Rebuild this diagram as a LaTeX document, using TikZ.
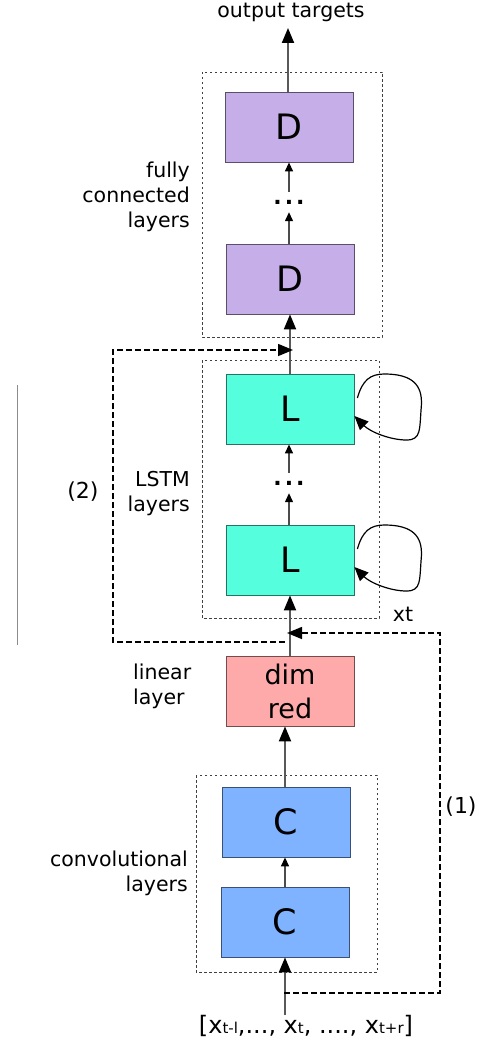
\documentclass[tikz,border=0pt]{standalone}
\usepackage{fontspec}
\setmainfont{DejaVu Sans}
\usetikzlibrary{arrows.meta}

\definecolor{densecol}{HTML}{C6AFE8}
\definecolor{lstmcol}{HTML}{55FFDD}
\definecolor{redcol}{HTML}{FFAAAA}
\definecolor{convcol}{HTML}{80B3FF}

\tikzset{
  block/.style={fill=#1, draw=#1!45!black, line width=0.8pt, minimum width=128pt,
    minimum height=70pt, inner sep=0pt, font=\fontsize{35}{35}\selectfont},
  lab/.style={font=\fontsize{20.5}{25}\selectfont, inner sep=0pt},
  dotsnode/.style={font=\fontsize{22}{22}\selectfont\bfseries, inner sep=0pt, minimum height=20pt},
  groupbox/.style={draw=black!75, line width=0.8pt, dash pattern=on 2.5pt off 2.5pt},
  mainarrow/.style={draw=black!65, line width=2pt, -{Triangle[length=15pt,width=12pt,color=black]}},
  thinarrow/.style={draw=black!70, line width=1.3pt, -{Triangle[length=9pt,width=8pt,color=black]}},
  skiparrow/.style={draw=black, line width=1.5pt, dash pattern=on 6pt off 3pt, -{Triangle[length=15pt,width=12pt]}},
  looparrow/.style={draw=black, line width=1.2pt, -{Triangle[length=14pt,width=12pt]}}
}
\newcommand{\idx}[1]{{\fontsize{15}{15}\selectfont #1}}

\begin{document}
\begin{tikzpicture}[x=1pt, y=-1pt]
  \useasboundingbox (0,0) rectangle (479,1040);

  % groups
  \draw[groupbox] (202,72) rectangle (382,337);
  \draw[groupbox] (202,360) rectangle (379,618);
  \draw[groupbox] (196,775) rectangle (377,972);

  % layers
  \node[block=densecol] (d2) at (289,127) {D};
  \node[dotsnode] (dotsd) at (289,202) {.\hspace{3pt}.\hspace{3pt}.};
  \node[block=densecol] (d1) at (290,279) {D};
  \node[block=lstmcol] (l2) at (290,409) {L};
  \node[dotsnode] (dotsl) at (289,483) {.\hspace{3pt}.\hspace{3pt}.};
  \node[block=lstmcol] (l1) at (290,560) {L};
  \node[block=redcol, align=center, font=\fontsize{27}{34}\selectfont] (dimred) at (290,691) {dim\\red};
  \node[block=convcol] (c2) at (286,822) {C};
  \node[block=convcol] (c1) at (285,922) {C};

  % texts
  \node[lab] (outlab) at (291,12) {output targets};
  \node[lab, align=right, anchor=east] (fclab) at (190,197) {fully\\connected\\layers};
  \node[lab, align=right, anchor=east] (lstmlab) at (190,494) {LSTM\\layers};
  \node[lab, align=left, anchor=west] (linlab) at (133,686) {linear\\layer};
  \node[lab, align=right, anchor=east] (convlab) at (188,873) {convolutional\\layers};
  \node[lab, font=\fontsize{24}{24}\selectfont] (inlab) at (306,1026)
    {[x\idx{t-l},..., x\idx{t}, ...., x\idx{t+r}]};
  \node[lab] (xtlab) at (403,614) {xt};
  \node[lab, font=\fontsize{22}{22}\selectfont] (onelab) at (461,807) {(1)};
  \node[lab, font=\fontsize{22}{22}\selectfont] (twolab) at (83,492) {(2)};

  % forward path
  \coordinate (out) at (288,28);
  \draw[mainarrow] (out |- d2.north) -- (out);
  \draw[thinarrow] (dotsd.north) -- (dotsd.north |- d2.south);
  \draw[thinarrow] (dotsd.south |- d1.north) -- (dotsd.south);
  \draw[mainarrow] (l2.north) -- (l2.north |- d1.south);
  \draw[thinarrow] (dotsl.north) -- (dotsl.north |- l2.south);
  \draw[thinarrow] (dotsl.south |- l1.north) -- (dotsl.south);
  \draw[mainarrow] (dimred.north) -- (dimred.north |- l1.south);
  \draw[mainarrow] (c1.north |- c2.north) -- (c1.north |- dimred.south);
  \draw[thinarrow] (c1.north) -- (c1.north |- c2.south);
  \draw[mainarrow] (c1.south |- inlab.north) -- (c1.south);

  % recurrence
  \foreach \b in {l2,l1} {
    \begin{scope}[shift={(\b.east)}]
      \draw[looparrow] (3,-11) .. controls (8,-29) and (16,-35) .. (30,-35)
        .. controls (58,-35) and (68,-24) .. (67,-4)
        .. controls (65,21) and (67,31) .. (52,31)
        .. controls (36,31) and (16,23) .. (0,7);
    \end{scope}
  }

  % skip connections
  \coordinate (sk1a) at (284,993);
  \coordinate (sk1b) at (287,633);
  \draw[skiparrow] (sk1a) -- (440,993) -- (440,633) -- (sk1b);
  \coordinate (sk2a) at (285,642);
  \coordinate (sk2b) at (293,350);
  \draw[skiparrow, -] (sk2a) -- (113,642) -- (113,350) -- (280,350);
  \draw[skiparrow] (270,350) -- (sk2b);

  \draw[black!45, line width=1pt] (17,385) -- (17,645);
\end{tikzpicture}
\end{document}
